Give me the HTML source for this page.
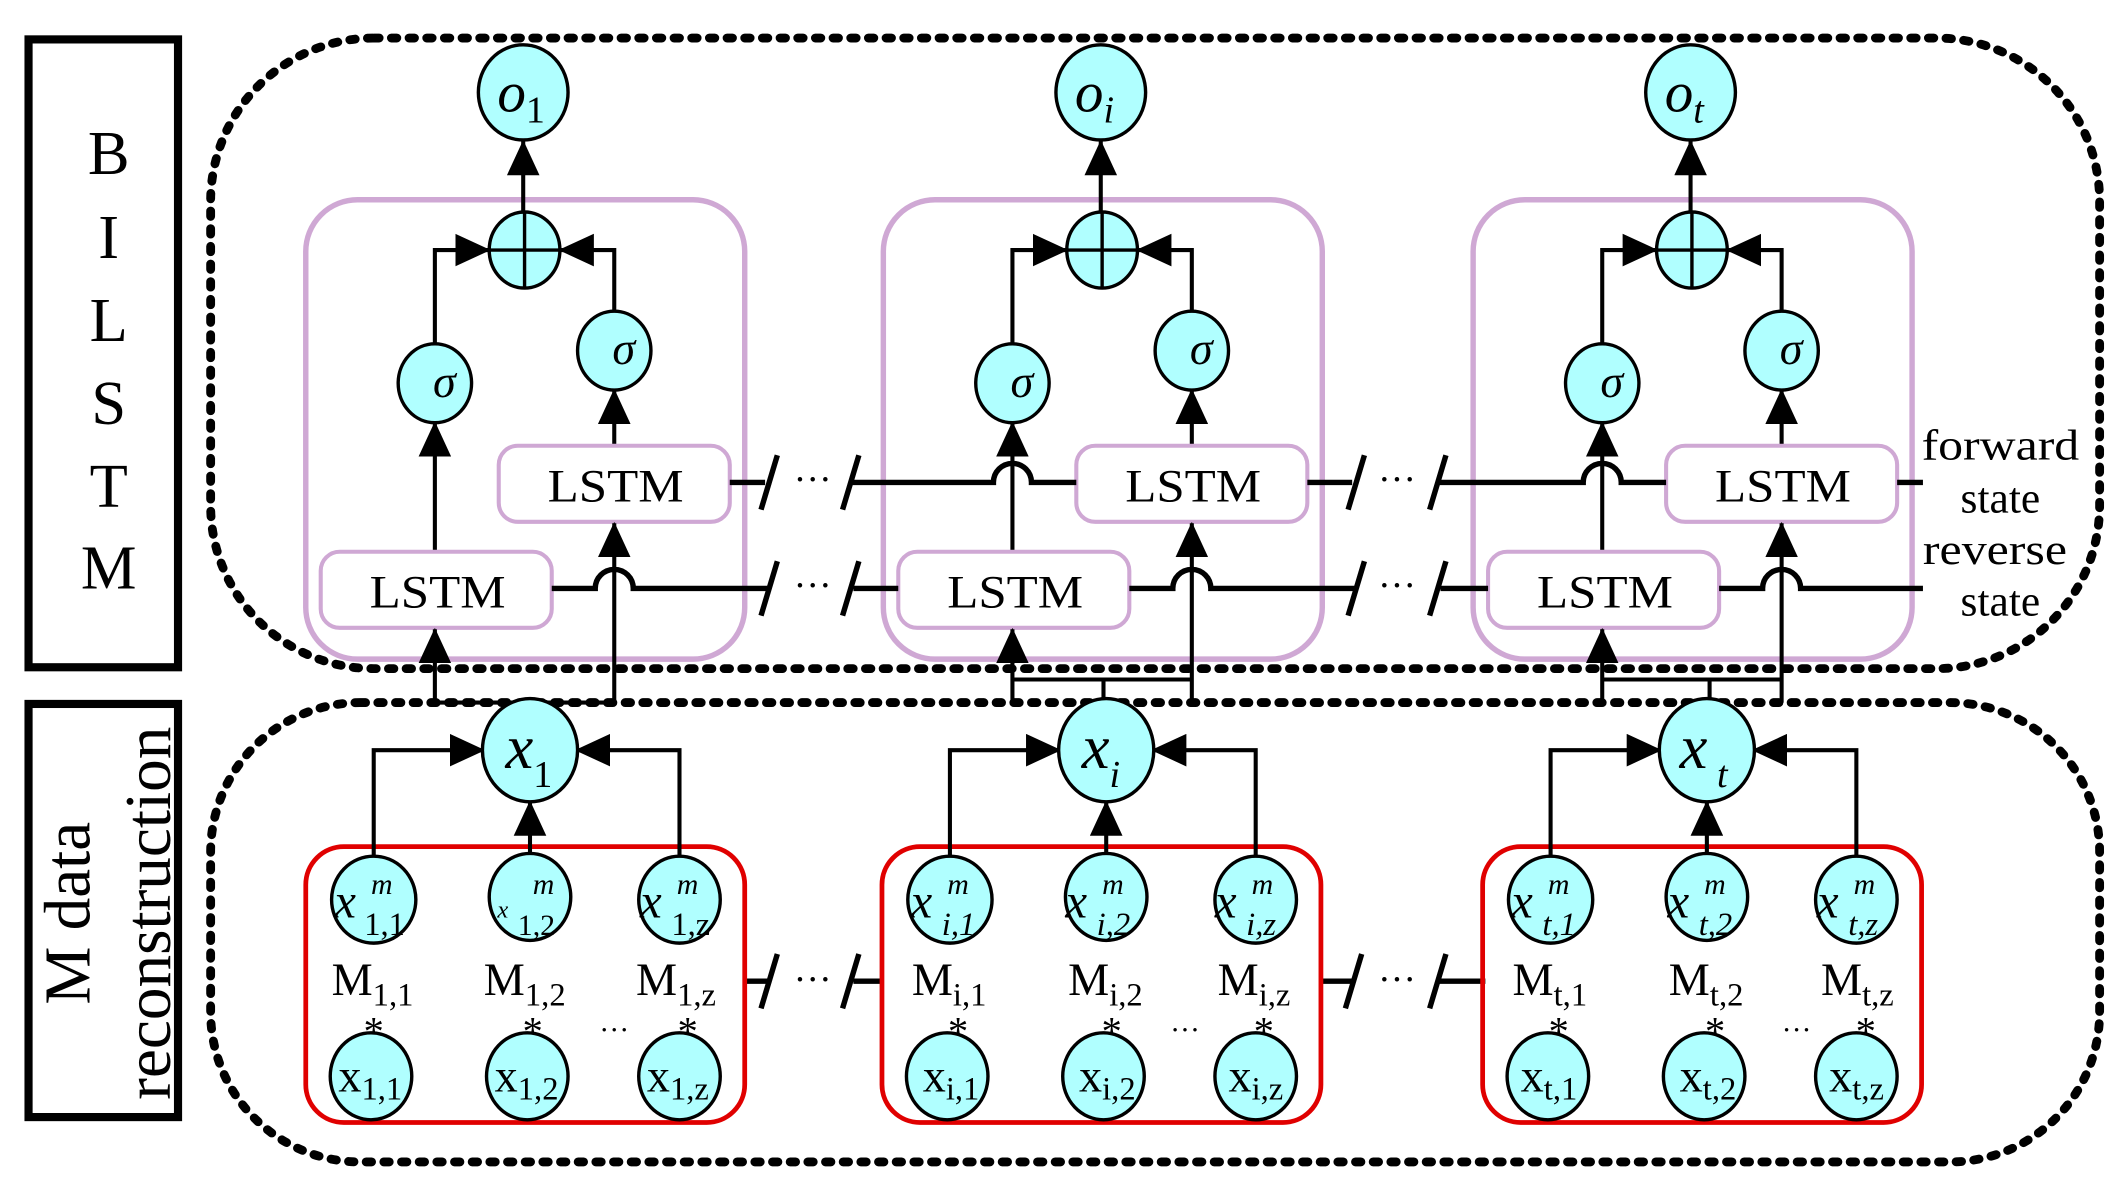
<!DOCTYPE html>
<html><head><meta charset="utf-8"><style>
html,body{margin:0;padding:0;background:#fff;}
svg{display:block;}
text{font-family:"Liberation Serif",serif;fill:#000;}
</style></head><body>
<svg width="2120" height="1180" viewBox="0 0 1560 868.3" preserveAspectRatio="none" xmlns="http://www.w3.org/2000/svg">
<defs>
<marker id="ah" markerUnits="userSpaceOnUse" markerWidth="26" markerHeight="24" refX="25" refY="12" orient="auto">
<path d="M0,0 L26,12 L0,24 z" fill="#000"/>
</marker>
</defs>
<!-- side boxes -->
<rect x="21" y="29" width="110" height="462" fill="none" stroke="#000" stroke-width="6"/>
<g font-size="46" text-anchor="middle">
<text x="80" y="128">B</text><text x="80" y="190">I</text><text x="80" y="251">L</text>
<text x="80" y="312">S</text><text x="80" y="373">T</text><text x="80" y="433">M</text>
</g>
<rect x="21" y="518" width="110" height="304" fill="none" stroke="#000" stroke-width="6"/>
<text transform="translate(66,672) rotate(-90)" font-size="48" text-anchor="middle">M data</text>
<text transform="translate(125,672) rotate(-90)" font-size="48" text-anchor="middle">reconstruction</text>

<!-- dashed groups -->
<rect x="155" y="28" width="1390" height="464" rx="120" fill="none" stroke="#000" stroke-width="6.5" stroke-dasharray="4 9" stroke-linecap="round"/>
<rect x="155" y="517" width="1390" height="338" rx="110" fill="none" stroke="#000" stroke-width="6.5" stroke-dasharray="4 9" stroke-linecap="round"/>

<!-- top cells -->
<g id="tc" stroke="#000" stroke-width="3" fill="none">
<rect x="225" y="147" width="323" height="338" rx="38" stroke="#cfa8d4" stroke-width="4"/>
<line x1="385" y1="158" x2="385" y2="104" marker-end="url(#ah)"/>
<polyline points="320,255 320,184 360,184" marker-end="url(#ah)"/>
<polyline points="452,231 452,184 412,184" marker-end="url(#ah)"/>
<line x1="320" y1="406" x2="320" y2="311" marker-end="url(#ah)"/>
<line x1="452" y1="328" x2="452" y2="287" marker-end="url(#ah)"/>
<rect x="367" y="328" width="170" height="56" rx="14" fill="#fff" stroke="#cfa8d4" stroke-width="3"/>
<rect x="236" y="406" width="170" height="56" rx="14" fill="#fff" stroke="#cfa8d4" stroke-width="3"/>
<line x1="320" y1="517" x2="320" y2="463" marker-end="url(#ah)"/>
<line x1="452" y1="517" x2="452" y2="385" marker-end="url(#ah)"/>
<ellipse cx="385" cy="68" rx="33" ry="35" fill="#b0ffff" stroke-width="2.5"/>
<ellipse cx="386" cy="184" rx="26" ry="28" fill="#b0ffff" stroke-width="2.5"/>
<line x1="360" y1="184" x2="412" y2="184" stroke-width="2.5"/>
<line x1="386" y1="156" x2="386" y2="212" stroke-width="2.5"/>
<ellipse cx="320" cy="282" rx="27" ry="29" fill="#b0ffff" stroke-width="2.5"/>
<ellipse cx="452" cy="258" rx="27" ry="29" fill="#b0ffff" stroke-width="2.5"/>
</g>
<use href="#tc" transform="translate(425,0)"/>
<use href="#tc" transform="translate(859,0)"/>
<!-- top labels -->
<g font-size="34" text-anchor="middle">
<text x="453" y="369" textLength="100" lengthAdjust="spacingAndGlyphs">LSTM</text><text x="322" y="447" textLength="100" lengthAdjust="spacingAndGlyphs">LSTM</text>
<text x="878" y="369" textLength="100" lengthAdjust="spacingAndGlyphs">LSTM</text><text x="747" y="447" textLength="100" lengthAdjust="spacingAndGlyphs">LSTM</text>
<text x="1312" y="369" textLength="100" lengthAdjust="spacingAndGlyphs">LSTM</text><text x="1181" y="447" textLength="100" lengthAdjust="spacingAndGlyphs">LSTM</text>
</g>
<g font-size="34" font-style="italic" text-anchor="middle">
<text x="327" y="292">σ</text><text x="459" y="268">σ</text>
<text x="752" y="292">σ</text><text x="884" y="268">σ</text>
<text x="1186" y="292">σ</text><text x="1318" y="268">σ</text>
</g>
<g font-size="42" font-style="italic">
<text x="366" y="82">o<tspan font-size="28" font-style="normal" dy="8">1</tspan></text>
<text x="791" y="82">o<tspan font-size="28" dy="8">i</tspan></text>
<text x="1225" y="82">o<tspan font-size="28" dy="8">t</tspan></text>
</g>
<!-- input joins cells 2 and 3 -->
<g stroke="#000" stroke-width="3" fill="none">
<polyline points="745,500 877,500"/><line x1="812" y1="500" x2="812" y2="518"/>
<polyline points="1179,500 1311,500"/><line x1="1258" y1="500" x2="1258" y2="518"/>
<line x1="320" y1="517" x2="452" y2="517"/>
</g>
<!-- horizontal state lines -->
<g stroke="#000" stroke-width="4" fill="none">
<path d="M406,433 H438 A14,14 0 0 1 466,433 H566"/>
<path d="M628,433 H661"/>
<path d="M831,433 H863 A14,14 0 0 1 891,433 H998"/>
<path d="M1060,433 H1095"/>
<path d="M1265,433 H1297 A14,14 0 0 1 1325,433 H1415"/>
<path d="M537,355 H563"/>
<path d="M625,355 H731 A14,14 0 0 1 759,355 H792"/>
<path d="M962,355 H995"/>
<path d="M1057,355 H1165 A14,14 0 0 1 1193,355 H1226"/>
<path d="M1396,355 H1415"/>
<line x1="560" y1="375" x2="572" y2="335"/><line x1="620" y1="375" x2="632" y2="335"/>
<line x1="560" y1="453" x2="572" y2="413"/><line x1="620" y1="453" x2="632" y2="413"/>
<line x1="992" y1="375" x2="1004" y2="335"/><line x1="1052" y1="375" x2="1064" y2="335"/>
<line x1="992" y1="453" x2="1004" y2="413"/><line x1="1052" y1="453" x2="1064" y2="413"/>
<path d="M548,722 H566"/><path d="M628,722 H650"/>
<line x1="560" y1="742" x2="572" y2="702"/><line x1="620" y1="742" x2="632" y2="702"/>
<path d="M973,722 H996"/><path d="M1058,722 H1093"/>
<line x1="990" y1="742" x2="1002" y2="702"/><line x1="1052" y1="742" x2="1064" y2="702"/>
</g>
<g font-size="28" text-anchor="middle">
<text x="598" y="362">···</text><text x="598" y="440">···</text>
<text x="1028" y="362">···</text><text x="1028" y="440">···</text>
<text x="598" y="730">···</text><text x="1028" y="730">···</text>
</g>
<g font-size="32" text-anchor="middle">
<text x="1472" y="338" textLength="116" lengthAdjust="spacingAndGlyphs">forward</text><text x="1472" y="377">state</text>
<text x="1468" y="415" textLength="106" lengthAdjust="spacingAndGlyphs">reverse</text><text x="1472" y="453">state</text>
</g>

<!-- bottom cells -->
<g id="bc" stroke="#000" stroke-width="3" fill="none">
<rect x="225" y="623" width="323" height="203" rx="28" stroke="#e00000" stroke-width="3.5"/>
<polyline points="275,632 275,552 356,552" marker-end="url(#ah)"/>
<polyline points="500,632 500,552 424,552" marker-end="url(#ah)"/>
<line x1="390" y1="628" x2="390" y2="590" marker-end="url(#ah)"/>
<ellipse cx="390" cy="552" rx="35" ry="38" fill="#b0ffff" stroke-width="2.5"/>
<ellipse cx="275" cy="662" rx="31" ry="32" fill="#b0ffff" stroke-width="2.5"/>
<ellipse cx="390" cy="660" rx="30" ry="32" fill="#b0ffff" stroke-width="2.5"/>
<ellipse cx="500" cy="662" rx="30" ry="32" fill="#b0ffff" stroke-width="2.5"/>
<ellipse cx="273" cy="792" rx="30" ry="32" fill="#b0ffff" stroke-width="2.5"/>
<ellipse cx="388" cy="792" rx="30" ry="32" fill="#b0ffff" stroke-width="2.5"/>
<ellipse cx="500" cy="792" rx="30" ry="32" fill="#b0ffff" stroke-width="2.5"/>
</g>
<use href="#bc" transform="translate(424,0)"/>
<use href="#bc" transform="translate(866,0)"/>
<g font-size="46" font-style="italic">
<text x="372" y="565">x<tspan font-size="28" font-style="normal" dy="14">1</tspan></text>
<text x="796" y="565">x<tspan font-size="28" dy="14">i</tspan></text>
<text x="1236" y="565">x<tspan font-size="28" dy="14"> t</tspan></text>
</g>
<g font-size="36" font-style="italic">
<text x="246" y="675">x</text><text x="273" y="658" font-size="22">m</text><text x="268" y="688" font-size="24" font-style="normal">1,1</text>
<text x="366" y="675" font-size="18">x</text><text x="392" y="658" font-size="22">m</text><text x="381" y="688" font-size="22" font-style="normal">1,2</text>
<text x="471" y="675">x</text><text x="498" y="658" font-size="22">m</text><text x="494" y="688" font-size="24" font-style="normal">1,z</text>
<text x="670" y="675">x</text><text x="697" y="658" font-size="22">m</text><text x="693" y="688" font-size="24">i,1</text>
<text x="784" y="675">x</text><text x="811" y="658" font-size="22">m</text><text x="807" y="688" font-size="24">i,2</text>
<text x="894" y="675">x</text><text x="921" y="658" font-size="22">m</text><text x="917" y="688" font-size="24">i,z</text>
<text x="1112" y="675">x</text><text x="1139" y="658" font-size="22">m</text><text x="1135" y="688" font-size="24">t,1</text>
<text x="1227" y="675">x</text><text x="1254" y="658" font-size="22">m</text><text x="1250" y="688" font-size="24">t,2</text>
<text x="1337" y="675">x</text><text x="1364" y="658" font-size="22">m</text><text x="1360" y="688" font-size="24">t,z</text>
</g>
<g font-size="34">
<text x="244" y="732">M<tspan font-size="24" dy="8">1,1</tspan></text>
<text x="356" y="732">M<tspan font-size="24" dy="8">1,2</tspan></text>
<text x="468" y="732">M<tspan font-size="24" dy="8">1,z</tspan></text>
<text x="671" y="732">M<tspan font-size="24" dy="8">i,1</tspan></text>
<text x="786" y="732">M<tspan font-size="24" dy="8">i,2</tspan></text>
<text x="896" y="732">M<tspan font-size="24" dy="8">i,z</tspan></text>
<text x="1113" y="732">M<tspan font-size="24" dy="8">t,1</tspan></text>
<text x="1228" y="732">M<tspan font-size="24" dy="8">t,2</tspan></text>
<text x="1340" y="732">M<tspan font-size="24" dy="8">t,z</tspan></text>
</g>
<g font-size="30" text-anchor="middle">
<text x="275" y="769">*</text><text x="392" y="769">*</text><text x="506" y="769">*</text>
<text x="705" y="769">*</text><text x="818" y="769">*</text><text x="930" y="769">*</text>
<text x="1147" y="769">*</text><text x="1262" y="769">*</text><text x="1373" y="769">*</text>
<text x="452" y="765" font-size="22">···</text><text x="872" y="765" font-size="22">···</text><text x="1322" y="765" font-size="22">···</text>
</g>
<g font-size="34">
<text x="249" y="803">x<tspan font-size="24" dy="6">1,1</tspan></text>
<text x="364" y="803">x<tspan font-size="24" dy="6">1,2</tspan></text>
<text x="476" y="803">x<tspan font-size="24" dy="6">1,z</tspan></text>
<text x="679" y="803">x<tspan font-size="24" dy="6">i,1</tspan></text>
<text x="794" y="803">x<tspan font-size="24" dy="6">i,2</tspan></text>
<text x="904" y="803">x<tspan font-size="24" dy="6">i,z</tspan></text>
<text x="1119" y="803">x<tspan font-size="24" dy="6">t,1</tspan></text>
<text x="1236" y="803">x<tspan font-size="24" dy="6">t,2</tspan></text>
<text x="1346" y="803">x<tspan font-size="24" dy="6">t,z</tspan></text>
</g>
</svg>
</body></html>
